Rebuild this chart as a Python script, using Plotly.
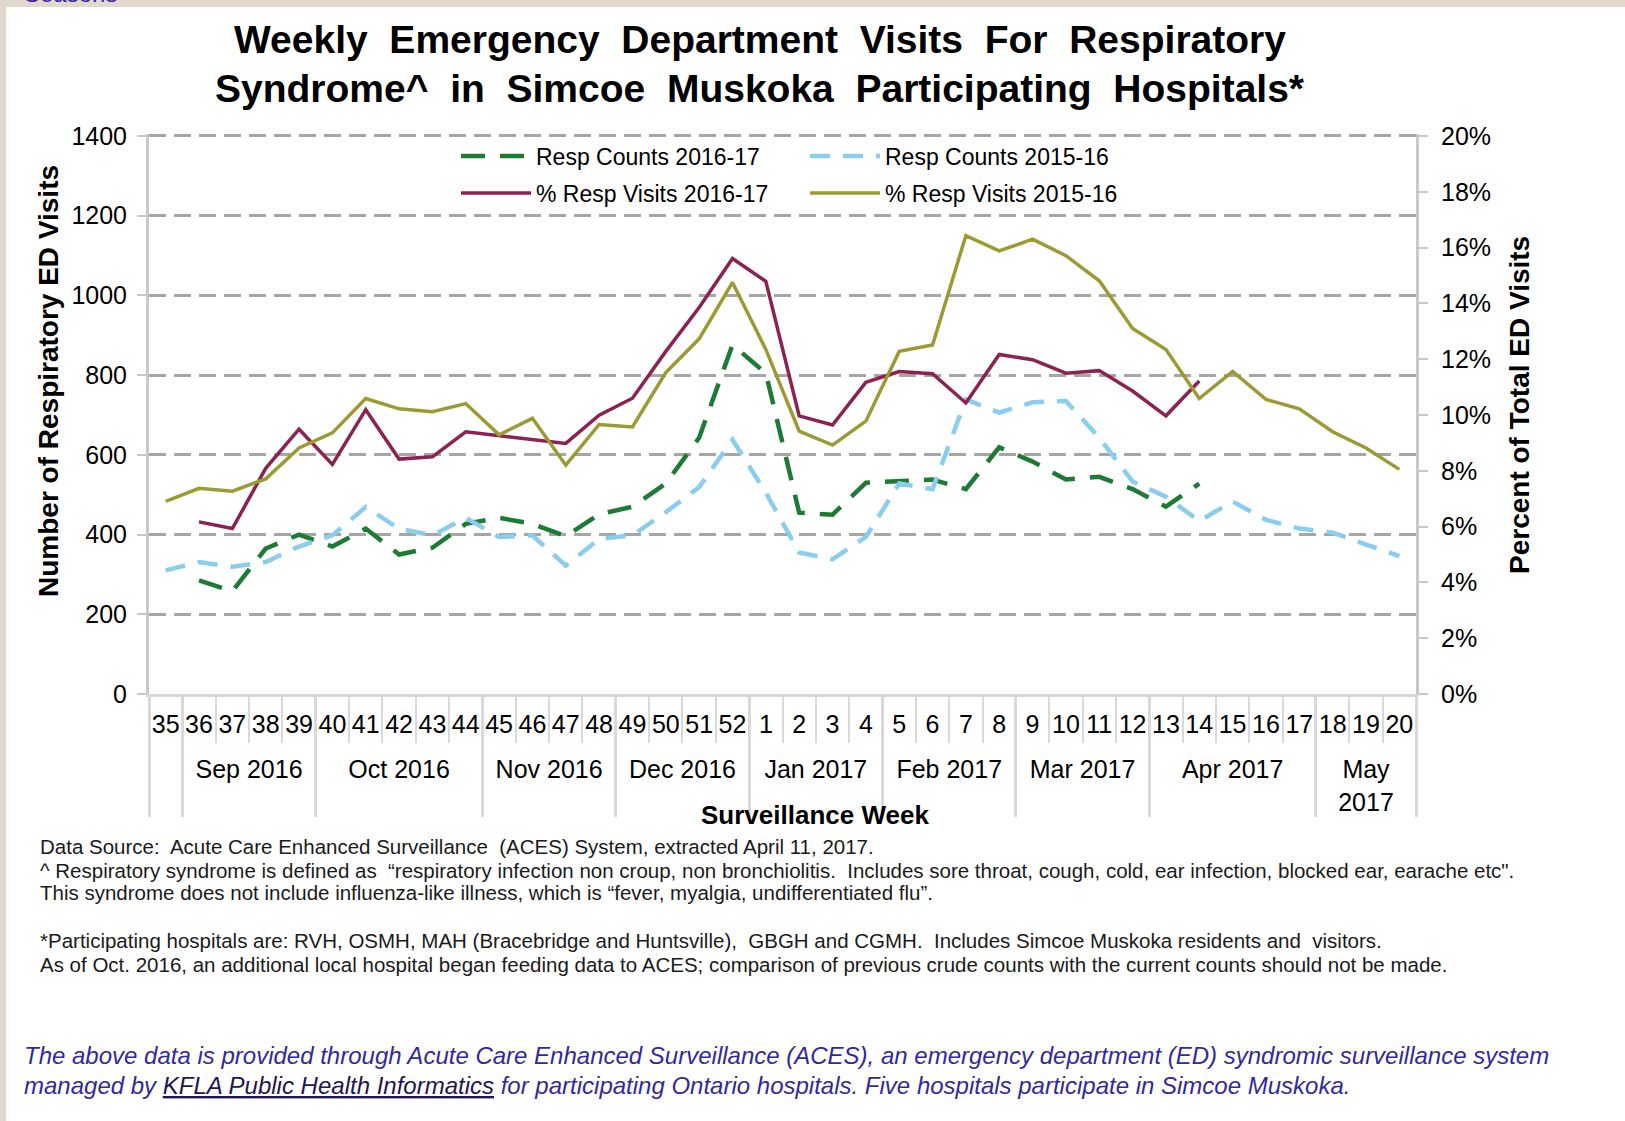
import plotly.graph_objects as go

# ---------------- data ----------------
weeks = ["35", "36", "37", "38", "39", "40", "41", "42", "43", "44", "45", "46", "47", "48",
         "49", "50", "51", "52", "1", "2", "3", "4", "5", "6", "7", "8", "9", "10", "11", "12",
         "13", "14", "15", "16", "17", "18", "19", "20"]
months = [" "] + ["Sep 2016"] * 4 + ["Oct 2016"] * 5 + ["Nov 2016"] * 4 + ["Dec 2016"] * 4 + \
         ["Jan 2017"] * 4 + ["Feb 2017"] * 4 + ["Mar 2017"] * 4 + ["Apr 2017"] * 5 + ["May<br>2017"] * 3

resp_counts_2016_17 = [None, 285, 258, 365, 400, 370, 415, 350, 367, 427, 442, 427, 396, 451,
                       470, 528, 643, 876, 805, 455, 450, 530, 533, 538, 514, 619, 583, 538, 545, 514,
                       470, 528, None, None, None, None, None, None]
resp_counts_2015_16 = [310, 331, 319, 331, 370, 398, 469, 415, 398, 442, 394, 398, 322, 389,
                       398, 456, 519, 638, 505, 355, 338, 394, 528, 514, 739, 706, 732, 735, 643, 533,
                       495, 434, 483, 437, 415, 405, 375, 346]
pct_visits_2016_17 = [None, 6.17, 5.93, 8.09, 9.49, 8.23, 10.19, 8.42, 8.50, 9.40, 9.26, 9.15, 8.98, 9.99,
                      10.60, 12.28, 13.85, 15.61, 14.79, 9.97, 9.64, 11.17, 11.56, 11.48, 10.43, 12.17, 11.98,
                      11.50, 11.59, 10.86, 9.97, 11.22, None, None, None, None, None, None]
pct_visits_2015_16 = [6.90, 7.37, 7.27, 7.71, 8.82, 9.36, 10.59, 10.22, 10.12, 10.41, 9.29, 9.88, 8.20, 9.66,
                      9.57, 11.52, 12.73, 14.75, 12.35, 9.42, 8.92, 9.78, 12.28, 12.51, 16.43, 15.88, 16.30,
                      15.71, 14.81, 13.10, 12.35, 10.59, 11.56, 10.56, 10.22, 9.40, 8.82, 8.05]
count_ticks = [0, 200, 400, 600, 800, 1000, 1200, 1400]
pct_ticks = [0, 2, 4, 6, 8, 10, 12, 14, 16, 18, 20]
pct_tick_text = [f"{v}%" for v in pct_ticks]

# ---------------- layout geometry ----------------
W, H = 1625, 1121
L, R, T, B = 149, 1416, 134, 694
PW, PH = R - L, B - T


def px(x):
    return (x - L) / PW


def py(y):
    return (B - y) / PH


FONT = "Liberation Sans, Arial, sans-serif"
GREEN = "#1E7B36"
BLUE = "#8ACDEE"
PURPLE = "#8B2252"
OLIVE = "#9C9A33"
AXC = "#C8C8C8"
YMAX = 1405
Y2MAX = 20 * YMAX / 1400

# week labels: the first one carries an empty superscript second line, which only
# deepens the first label row so the month row sits lower (as in the reference)
week_labels = list(weeks)
week_labels[0] = week_labels[0] + "<br><sup>\u00a0</sup>"
x_multi = [months, week_labels]

fig = go.Figure()
fig.add_trace(go.Scatter(x=x_multi, y=resp_counts_2016_17, mode="lines", name="Resp Counts 2016-17",
                         line=dict(color=GREEN, width=4.5, dash="24px,15px"), legend="legend"))
fig.add_trace(go.Scatter(x=x_multi, y=resp_counts_2015_16, mode="lines", name="Resp Counts 2015-16",
                         line=dict(color=BLUE, width=4.5, dash="20px,13px"), legend="legend"))
fig.add_trace(go.Scatter(x=x_multi, y=pct_visits_2016_17, mode="lines", name="% Resp Visits 2016-17",
                         line=dict(color=PURPLE, width=3.5), yaxis="y2", legend="legend2"))
fig.add_trace(go.Scatter(x=x_multi, y=pct_visits_2015_16, mode="lines", name="% Resp Visits 2015-16",
                         line=dict(color=OLIVE, width=3.5), yaxis="y2", legend="legend2"))

annotations = []
# title
annotations.append(dict(text="<b>Weekly\u00a0 Emergency\u00a0 Department\u00a0 Visits\u00a0 For\u00a0 Respiratory</b>",
                        x=px(760), y=py(40), xref="paper", yref="paper", showarrow=False,
                        xanchor="center", yanchor="middle", font=dict(size=39, color="black", family=FONT)))
annotations.append(dict(text="<b>Syndrome^\u00a0 in\u00a0 Simcoe\u00a0 Muskoka\u00a0 Participating\u00a0 Hospitals*</b>",
                        x=px(760), y=py(88), xref="paper", yref="paper", showarrow=False,
                        xanchor="center", yanchor="middle", font=dict(size=39, color="black", family=FONT)))
# axis titles
annotations.append(dict(text="<b>Number of Respiratory ED Visits</b>", textangle=-90,
                        x=px(48), y=py(381), xref="paper", yref="paper", showarrow=False,
                        xanchor="center", yanchor="middle", font=dict(size=28, color="black", family=FONT)))
annotations.append(dict(text="<b>Percent of Total ED Visits</b>", textangle=-90,
                        x=px(1520), y=py(405), xref="paper", yref="paper", showarrow=False,
                        xanchor="center", yanchor="middle", font=dict(size=28, color="black", family=FONT)))
annotations.append(dict(text="<b>Surveillance Week</b>",
                        x=px(815), y=py(815), xref="paper", yref="paper", showarrow=False,
                        xanchor="center", yanchor="middle", font=dict(size=26, color="black", family=FONT)))
# footnotes
notes = [
    (846, "Data Source:\u00a0 Acute Care Enhanced Surveillance\u00a0 (ACES) System, extracted April 11, 2017."),
    (870, "^ Respiratory syndrome is defined as\u00a0 \u201crespiratory infection non croup, non bronchiolitis.\u00a0 Includes sore throat, cough, cold, ear infection, blocked ear, earache etc\"."),
    (892, "This syndrome does not include influenza-like illness, which is \u201cfever, myalgia, undifferentiated flu\u201d."),
    (940, "*Participating hospitals are: RVH, OSMH, MAH (Bracebridge and Huntsville),\u00a0 GBGH and CGMH.\u00a0 Includes Simcoe Muskoka residents and\u00a0 visitors."),
    (964, "As of Oct. 2016, an additional local hospital began feeding data to ACES; comparison of previous crude counts with the current counts should not be made."),
]
for yy, t in notes:
    annotations.append(dict(text=t, x=px(38), y=py(yy), xref="paper", yref="paper", showarrow=False,
                            xanchor="left", yanchor="middle", font=dict(size=20.5, color="#1a1a1a", family=FONT)))
ITAL = "#33299C"
annotations.append(dict(text="<i>The above data is provided through Acute Care Enhanced Surveillance (ACES), an emergency department (ED) syndromic surveillance system</i>",
                        x=px(22), y=py(1055), xref="paper", yref="paper", showarrow=False,
                        xanchor="left", yanchor="middle", font=dict(size=24, color=ITAL, family=FONT)))
annotations.append(dict(text="<i>managed by <span style='text-decoration:underline;color:#24154F'>KFLA Public Health Informatics</span> for participating Ontario hospitals. Five hospitals participate in Simcoe Muskoka.</i>",
                        x=px(22), y=py(1085), xref="paper", yref="paper", showarrow=False,
                        xanchor="left", yanchor="middle", font=dict(size=24, color=ITAL, family=FONT)))
annotations.append(dict(text="Seasons", x=px(22), y=py(-7), xref="paper", yref="paper", showarrow=False,
                        xanchor="left", yanchor="middle", font=dict(size=24, color="#3B2A9E", family=FONT)))

BEIGE = "#E3D8CC"
shapes = [
    dict(type="rect", xref="paper", yref="paper", x0=px(0), x1=px(W), y0=py(0), y1=py(7),
         fillcolor=BEIGE, line=dict(width=0), layer="below"),
    dict(type="rect", xref="paper", yref="paper", x0=px(0), x1=px(6), y0=py(0), y1=py(H),
         fillcolor=BEIGE, line=dict(width=0), layer="below"),
]

fig.update_layout(
    width=W, height=H,
    margin=dict(l=L, r=W - R, t=T, b=H - B, autoexpand=False),
    paper_bgcolor="white", plot_bgcolor="white",
    font=dict(family=FONT, color="black"),
    showlegend=True,
    legend=dict(orientation="h", x=px(456), y=py(156), xanchor="left", yanchor="middle",
                entrywidth=264, font=dict(size=23, family=FONT), bgcolor="rgba(0,0,0,0)",
                itemwidth=70, traceorder="normal"),
    legend2=dict(orientation="h", x=px(456), y=py(193), xanchor="left", yanchor="middle",
                 entrywidth=264, font=dict(size=23, family=FONT), bgcolor="rgba(0,0,0,0)",
                 itemwidth=70, traceorder="normal"),
    xaxis=dict(type="multicategory", range=[-0.5, len(weeks) - 0.5],
               showline=True, linecolor="#D9D9D9", linewidth=3,
               ticks="outside", tickson="boundaries", ticklen=46, tickwidth=2, tickcolor="#D9D9D9",
               showdividers=True, dividercolor="#D9D9D9", dividerwidth=3, tickangle=0,
               tickfont=dict(size=25, family=FONT, color="black"), showgrid=False,
               automargin=False, ticklabelstandoff=6),
    yaxis=dict(range=[0, YMAX], tickvals=count_ticks, showline=True,
               linecolor=AXC, linewidth=3,
               ticks="outside", ticklen=9, tickwidth=2, tickcolor=AXC,
               showgrid=True, gridcolor="#A6A6A6", gridwidth=2.5, griddash="17px,8px",
               zeroline=False, tickfont=dict(size=25, family=FONT, color="black"), automargin=False,
               ticklabelstandoff=5),
    yaxis2=dict(range=[0, Y2MAX], tickvals=pct_ticks, ticktext=pct_tick_text, overlaying="y",
                side="right",
                showline=True, linecolor=AXC, linewidth=3, ticks="outside", ticklen=9, tickwidth=2,
                tickcolor=AXC, showgrid=False, zeroline=False,
                tickfont=dict(size=25, family=FONT, color="black"), automargin=False,
                ticklabelstandoff=8),
    annotations=annotations,
    shapes=shapes,
)

fig.write_html("out.html", config={"displayModeBar": False},
               post_script="document.body.style.margin='0';document.body.style.padding='0';")
